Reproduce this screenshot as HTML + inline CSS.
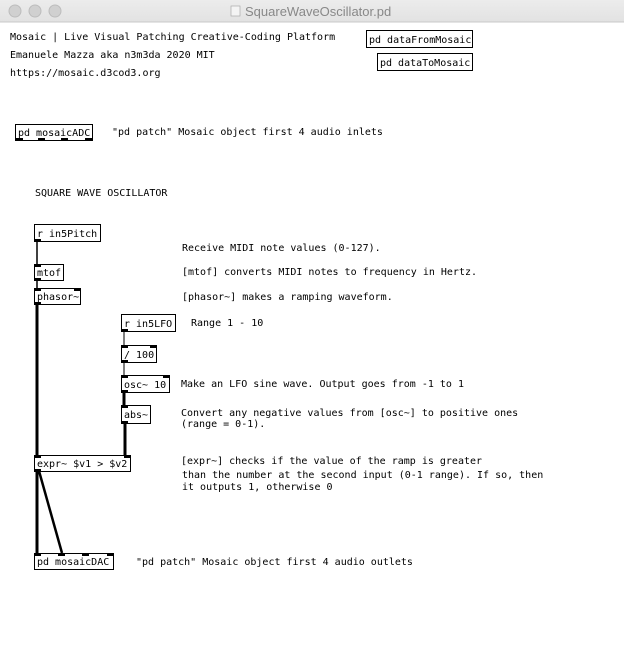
<!DOCTYPE html>
<html><head><meta charset="utf-8"><style>
html,body{margin:0;padding:0;background:#fff;width:624px;height:652px;overflow:hidden}
text{font-family:"DejaVu Sans Mono","Liberation Mono",monospace;font-size:10px;fill:#000}
.b{fill:#fff;stroke:#000;stroke-width:1}
</style></head><body>
<svg width="624" height="652" xmlns="http://www.w3.org/2000/svg">
<defs><linearGradient id="tb" x1="0" y1="0" x2="0" y2="1"><stop offset="0" stop-color="#ececec"/><stop offset="1" stop-color="#e2e2e2"/></linearGradient></defs>
<rect x="0" y="0" width="624" height="22" fill="url(#tb)"/>
<line x1="0" y1="22" x2="624" y2="22" stroke="#c8c8c8"/>
<circle cx="15" cy="11" r="6" fill="#d0d0d0" stroke="#bcbcbc"/>
<circle cx="35" cy="11" r="6" fill="#d0d0d0" stroke="#bcbcbc"/>
<circle cx="55" cy="11" r="6" fill="#d0d0d0" stroke="#bcbcbc"/>
<rect x="231" y="6" width="9" height="10" fill="#f4f4f4" stroke="#aaa" stroke-width="0.7"/>
<text x="245" y="16" style="font-family:'Liberation Sans',sans-serif;font-size:13px;fill:#888">SquareWaveOscillator.pd</text>

<text x="10" y="40">Mosaic | Live Visual Patching Creative-Coding Platform</text>
<text x="10" y="58">Emanuele Mazza aka n3m3da 2020 MIT</text>
<text x="10" y="76">https://mosaic.d3cod3.org</text>

<rect class="b" x="366.5" y="30.5" width="106" height="17"/><text x="369" y="43">pd dataFromMosaic</text>
<rect class="b" x="377.5" y="53.5" width="95" height="17"/><text x="380" y="66">pd dataToMosaic</text>

<rect class="b" x="15.5" y="124.5" width="77" height="16"/><text x="18" y="136">pd mosaicADC</text>
<rect x="16" y="138" width="7" height="2"/><rect x="38" y="138" width="7" height="2"/><rect x="61" y="138" width="7" height="2"/><rect x="85" y="138" width="7" height="2"/>
<text x="112" y="135">"pd patch" Mosaic object first 4 audio inlets</text>

<text x="35" y="196">SQUARE WAVE OSCILLATOR</text>

<!-- connections -->
<line x1="37" y1="241" x2="37" y2="264" stroke="#000" stroke-width="1.5"/>
<line x1="37" y1="280" x2="37" y2="288" stroke="#000" stroke-width="1.5"/>
<line x1="37" y1="304" x2="37" y2="455" stroke="#000" stroke-width="3"/>
<line x1="124" y1="331" x2="124" y2="345" stroke="#000" stroke-width="1"/>
<line x1="124" y1="362" x2="124" y2="375" stroke="#000" stroke-width="1"/>
<line x1="124" y1="392" x2="124" y2="405" stroke="#000" stroke-width="3"/>
<line x1="125" y1="423" x2="125" y2="455" stroke="#000" stroke-width="3"/>
<line x1="37" y1="471" x2="37" y2="553" stroke="#000" stroke-width="3"/>
<line x1="39" y1="471" x2="62" y2="553" stroke="#000" stroke-width="2.5"/>

<rect class="b" x="34.5" y="224.5" width="66" height="17"/><text x="37" y="237">r in5Pitch</text>
<rect x="35" y="239" width="6" height="2"/>
<text x="182" y="251">Receive MIDI note values (0-127).</text>

<rect class="b" x="34.5" y="264.5" width="29" height="16"/><text x="37" y="276">mtof</text>
<rect x="35" y="265" width="6" height="2"/><rect x="35" y="278" width="6" height="2"/>
<text x="182" y="275">[mtof] converts MIDI notes to frequency in Hertz.</text>

<rect class="b" x="34.5" y="288.5" width="46" height="16"/><text x="37" y="300">phasor~</text>
<rect x="35" y="289" width="6" height="2"/><rect x="74" y="289" width="6" height="2"/><rect x="35" y="302" width="6" height="2"/>
<text x="182" y="300">[phasor~] makes a ramping waveform.</text>

<rect class="b" x="121.5" y="314.5" width="54" height="17"/><text x="124" y="327">r in5LFO</text>
<rect x="122" y="329" width="6" height="2"/>
<text x="191" y="326">Range 1 - 10</text>

<rect class="b" x="121.5" y="345.5" width="35" height="17"/><text x="124" y="358">/ 100</text>
<rect x="122" y="346" width="6" height="2"/><rect x="150" y="346" width="6" height="2"/><rect x="122" y="360" width="6" height="2"/>

<rect class="b" x="121.5" y="375.5" width="48" height="17"/><text x="124" y="388">osc~ 10</text>
<rect x="122" y="376" width="6" height="2"/><rect x="163" y="376" width="6" height="2"/><rect x="122" y="390" width="6" height="2"/>
<text x="181" y="387">Make an LFO sine wave. Output goes from -1 to 1</text>

<rect class="b" x="121.5" y="405.5" width="29" height="18"/><text x="124" y="418">abs~</text>
<rect x="122" y="406" width="6" height="2"/><rect x="122" y="421" width="6" height="2"/>
<text x="181" y="416">Convert any negative values from [osc~] to positive ones</text>
<text x="181" y="427">(range = 0-1).</text>

<rect class="b" x="34.5" y="455.5" width="96" height="16"/><text x="37" y="467">expr~ $v1 &gt; $v2</text>
<rect x="35" y="456" width="6" height="2"/><rect x="124" y="456" width="6" height="2"/><rect x="35" y="469" width="6" height="2"/>
<text x="181" y="464">[expr~] checks if the value of the ramp is greater</text>
<text x="182" y="478">than the number at the second input (0-1 range). If so, then</text>
<text x="182" y="490">it outputs 1, otherwise 0</text>

<rect class="b" x="34.5" y="553.5" width="79" height="16"/><text x="37" y="565">pd mosaicDAC</text>
<rect x="35" y="554" width="6" height="2"/><rect x="58" y="554" width="7" height="2"/><rect x="82" y="554" width="7" height="2"/><rect x="107" y="554" width="6" height="2"/>
<text x="136" y="565">"pd patch" Mosaic object first 4 audio outlets</text>
</svg>
</body></html>
